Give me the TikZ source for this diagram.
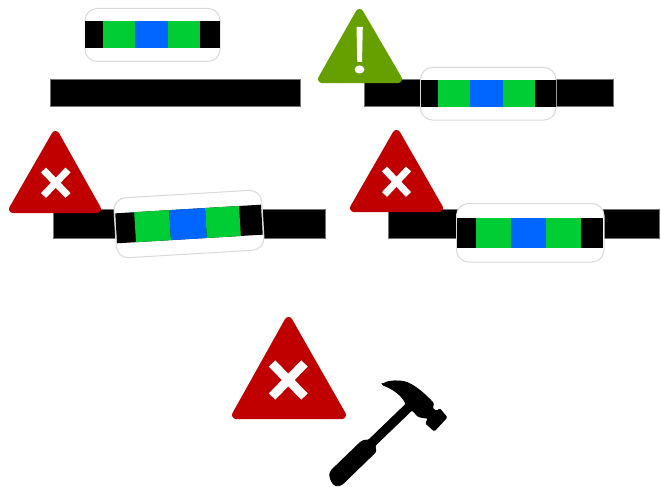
\documentclass[tikz,border=0pt]{standalone}
\definecolor{cgreen}{HTML}{00CC33}
\definecolor{cblue}{HTML}{0066FF}
\definecolor{cred}{HTML}{C00000}
\definecolor{colive}{HTML}{669F00}
\definecolor{cedge}{HTML}{D9D9D9}
\tikzset{
  blackbar/.style={fill=black,draw=black!55,line width=0.4pt},
  sleeve/.style={fill=white,draw=cedge,line width=1pt,rounded corners=12pt},
  seg/.style={fill=#1,draw=none},
  warn/.style={fill=#1,draw=#1,line width=8pt,line join=round},
  crossline/.style={draw=white,line cap=butt},
}
% strip: x0,x1,x2,x3,x4,x5,ytop,ybot
\newcommand{\stripdraw}[8]{%
  \fill[seg=black] (#1,#7) rectangle (#6,#8);
  \fill[seg=cgreen] (#2,#7) rectangle (#3,#8);
  \fill[seg=cblue] (#3,#7) rectangle (#4,#8);
  \fill[seg=cgreen] (#4,#7) rectangle (#5,#8);
}
\begin{document}
\begin{tikzpicture}[x=1pt,y=-1pt]
\useasboundingbox (0,0) rectangle (661,487);
% panel 1
\draw[blackbar] (50.5,79.5) rectangle (300,106);
\draw[sleeve] (85,8.5) rectangle (220,61.5);
\stripdraw{85}{103}{135}{168}{200}{220}{21}{48.5}
% panel 2
\draw[blackbar] (364,79.5) rectangle (613,106);
\draw[warn=colive] (359.5,13) -- (398,79) -- (322,79) -- cycle;
\draw[sleeve] (420.5,67.5) rectangle (556,120);
\stripdraw{421}{438}{470}{503}{535}{556}{80}{107}
\fill[white] (356.5,27) -- (362.8,27) -- (362,62) -- (357.3,62) -- cycle;
\fill[white] (359.5,69.5) ellipse [x radius=5,y radius=4];
% panel 3
\draw[blackbar] (53.5,209.5) rectangle (325,238.5);
\draw[warn=cred] (55.5,135) -- (97,209) -- (13,209) -- cycle;
\draw[crossline,line width=7pt] (43.5,170) -- (68,195.5);
\draw[crossline,line width=7pt] (68,170) -- (43.5,195.5);
\begin{scope}[shift={(189,224)},rotate=3.4]
\draw[sleeve] (-74,-30) rectangle (74,30);
\stripdraw{-73}{-54}{-19}{17}{51}{73}{-15}{15}
\end{scope}
% panel 4
\draw[blackbar] (388.5,209.5) rectangle (659,238);
\draw[warn=cred] (396.5,134) -- (439,208) -- (354,208) -- cycle;
\draw[crossline,line width=7pt] (384.5,169) -- (408.5,194.5);
\draw[crossline,line width=7pt] (408.5,169) -- (384.5,194.5);
\draw[sleeve] (456.5,203.5) rectangle (604,262);
\stripdraw{457}{476}{511}{546}{581}{603}{218}{248}
% panel 5
\draw[warn=cred] (288.5,321) -- (342,415) -- (236,415) -- cycle;
\draw[crossline,line width=9pt] (272,363.5) -- (304.5,396.5);
\draw[crossline,line width=9pt] (304.5,363.5) -- (272,396.5);
% hammer
\begin{scope}[shift={(325,375)},x=0.3333pt,y=-0.3333pt]
\filldraw[black,line width=0.8pt,line join=round,rounded corners=1.2pt]
  (171,29) .. controls (185,18) and (205,17) .. (225,18)
  .. controls (255,21) and (285,42) .. (326,85)
  -- (322,100) -- (335,109) -- (344,101) -- (366,127) -- (328,168) -- (302,145) -- (310,130)
  -- (295,128) -- (280,125) -- (261,105) -- (150,212) -- (153,230) -- (55,325)
  .. controls (40,337) and (25,333) .. (18,315)
  .. controls (12,300) and (15,290) .. (22,283)
  -- (108,200) -- (120,195) -- (130,196) -- (243,87)
  .. controls (230,60) and (205,42) .. (171,29) -- cycle;
\end{scope}
\end{tikzpicture}
\end{document}
